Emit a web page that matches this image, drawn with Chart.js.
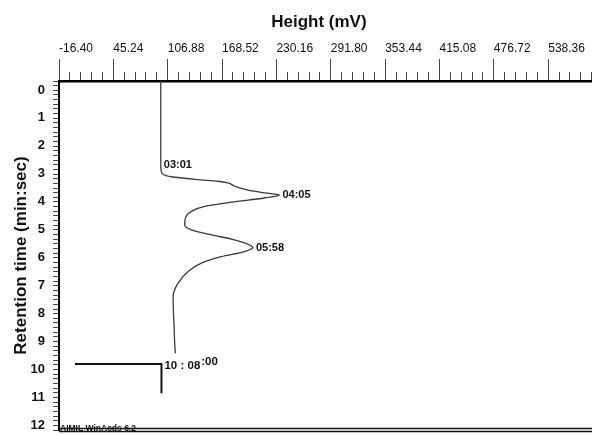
<!DOCTYPE html>
<html>
<head>
<meta charset="utf-8">
<script src="https://cdn.jsdelivr.net/npm/chart.js@4.4.1/dist/chart.umd.min.js"></script>
<style>
  html, body { margin: 0; padding: 0; background: #fff; }
  #wrap { width: 592px; height: 435px; }
</style>
</head>
<body>
<div id="wrap"><canvas id="chromChart"></canvas></div>
<script>
const narrow = "'Liberation Sans Narrow', 'Liberation Sans', Arial, sans-serif";
const sans = "'Liberation Sans', Arial, sans-serif";

// detector trace: retention time (min) and height (mV)
const traceTime = [0, 3.0, 3.2, 3.34, 3.43, 3.53, 3.59, 3.65, 3.77, 3.91, 4.01, 4.083,
  4.19, 4.34, 4.49, 4.67, 4.91, 5.15, 5.33, 5.51, 5.66, 5.80, 5.967,
  6.11, 6.29, 6.52, 6.82, 7.24, 7.72, 8.2, 8.8, 9.4, 9.75];
const traceHeight = [99.0, 99.0, 99.4, 101.5, 111, 141, 164, 175, 183, 198, 217, 233.6,
  216.6, 179, 148.7, 133.7, 126.9, 126.1, 133.7, 156.3, 178.9, 194, 203.5,
  194, 167.6, 145, 130, 118.6, 113, 113.3, 114.1, 114.8, 115.6];

// injection marker at the end of the run
const markerTime = [10.133, 10.133, 11.18];
const markerHeight = [1.7, 99.8, 99.8];

// retention time labels
const peakLabels = ['03:01', '04:05', '05:58', '10 : 08'];
const peakTimes = [3.017, 4.083, 5.967, 10.133];
const peakHeights = [99.0, 233.6, 203.5, 99.8];

// axis ticks
const xMajorTicks = [-16.40, 45.24, 106.88, 168.52, 230.16, 291.80, 353.44, 415.08, 476.72, 538.36];
const yTickLabels = ['0', '1', '2', '3', '4', '5', '6', '7', '8', '9', '10', '11', '12'];

const X_MIN = -16.40, X_MAX = 588;
const Y_MIN = 0, Y_MAX = 12.5;

const xStep = (xMajorTicks[1] - xMajorTicks[0]) / 5;
const xTicks = [];
for (let v = X_MIN; v <= X_MAX + 1e-6; v += xStep) xTicks.push(+v.toFixed(3));
const isMajorX = v => xMajorTicks.some(m => Math.abs(m - v) < 1e-3);

const yTicks = [];
for (let m = 0; m <= 12; m++) {
  for (let k = 0; k < 6; k++) {
    const v = m + k / 6;
    if (v <= Y_MAX + 1e-6) yTicks.push(v);
  }
}

const peakText = {
  id: 'peakText',
  afterDatasetsDraw(chart) {
    const {ctx, chartArea, scales: {x, y}} = chart;
    ctx.save();

    // double rule along the bottom
    ctx.strokeStyle = '#111';
    ctx.lineWidth = 1.4;
    [chartArea.bottom - 1.5, chartArea.bottom + 1.5].forEach(py => {
      ctx.beginPath();
      ctx.moveTo(chartArea.left, py);
      ctx.lineTo(chartArea.right, py);
      ctx.stroke();
    });

    ctx.fillStyle = '#111';
    ctx.textBaseline = 'middle';
    ctx.textAlign = 'left';
    peakLabels.forEach((txt, i) => {
      const last = i === peakLabels.length - 1;
      ctx.font = 'bold ' + (last ? 11.5 : 11) + 'px ' + narrow;
      const px = x.getPixelForValue(peakHeights[i]) + 3;
      const py = y.getPixelForValue(peakTimes[i]) + (last ? 2 : 0);
      ctx.fillText(txt, px, py);
      if (last) {
        const w = ctx.measureText(txt).width;
        ctx.fillText(':00', px + w + 1, py - 4);
      }
    });

    ctx.font = 'bold 8.5px ' + narrow;
    ctx.textBaseline = 'alphabetic';
    ctx.fillText('AIMIL WinAcds 6.2', chartArea.left + 1, chartArea.bottom + 1);
    ctx.restore();
  }
};

new Chart(document.getElementById('chromChart'), {
  type: 'line',
  data: {
    datasets: [
      {
        data: traceTime.map((t, i) => ({x: traceHeight[i], y: t})),
        borderColor: '#3a3a3a',
        borderWidth: 1.3,
        pointRadius: 0,
        cubicInterpolationMode: 'monotone',
        indexAxis: 'y'
      },
      {
        data: markerTime.map((t, i) => ({x: markerHeight[i], y: t})),
        borderColor: '#111',
        borderWidth: 2,
        pointRadius: 0,
        tension: 0,
        indexAxis: 'y'
      }
    ]
  },
  options: {
    indexAxis: 'y',
    responsive: true,
    maintainAspectRatio: false,
    animation: false,
    layout: { padding: { top: 0, left: 0, right: 0, bottom: 5 } },
    plugins: {
      legend: { display: false },
      tooltip: { enabled: false }
    },
    scales: {
      x: {
        type: 'linear',
        position: 'top',
        min: X_MIN,
        max: X_MAX,
        afterBuildTicks: axis => { axis.ticks = xTicks.map(v => ({value: v})); },
        afterFit: axis => {
          axis.height = 81;
          axis.paddingLeft = 0;
          axis.paddingRight = 0;
        },
        border: { display: true, color: '#000', width: 2.5 },
        grid: {
          drawOnChartArea: false,
          tickLength: 22,
          tickColor: '#444',
          tickWidth: 1,
          tickBorderDash: ctx => isMajorX(ctx.tick.value) ? [] : [0, 13, 9, 100]
        },
        ticks: {
          autoSkip: false,
          maxRotation: 0,
          minRotation: 0,
          align: 'start',
          padding: 3,
          color: '#111',
          font: { family: narrow, size: 12 },
          callback: v => isMajorX(v) ? v.toFixed(2) : ''
        },
        title: {
          display: true,
          text: 'Height (mV)\u2002\u00a0',
          color: '#111',
          font: { family: sans, size: 17, weight: 'bold' },
          padding: { top: 12, bottom: 0 }
        }
      },
      y: {
        type: 'linear',
        position: 'left',
        reverse: true,
        min: Y_MIN,
        max: Y_MAX,
        afterBuildTicks: axis => { axis.ticks = yTicks.map(v => ({value: v})); },
        afterFit: axis => {
          axis.width = 59;
          axis.paddingTop = 0;
          axis.paddingBottom = 0;
        },
        border: { display: true, color: '#000', width: 2 },
        grid: {
          drawOnChartArea: false,
          tickLength: 6,
          tickColor: '#444',
          tickWidth: 1
        },
        ticks: {
          autoSkip: false,
          padding: 8,
          labelOffset: 9,
          color: '#111',
          font: { family: narrow, size: 13, weight: 'bold' },
          callback: v => {
            const r = Math.round(v);
            return Math.abs(v - r) < 1e-6 ? yTickLabels[r] : '';
          }
        },
        title: {
          display: true,
          text: 'Retention time (min:sec)',
          color: '#111',
          font: { family: sans, size: 17, weight: 'bold' },
          padding: { top: 11, bottom: 0 }
        }
      }
    }
  },
  plugins: [peakText]
});
</script>
</body>
</html>
